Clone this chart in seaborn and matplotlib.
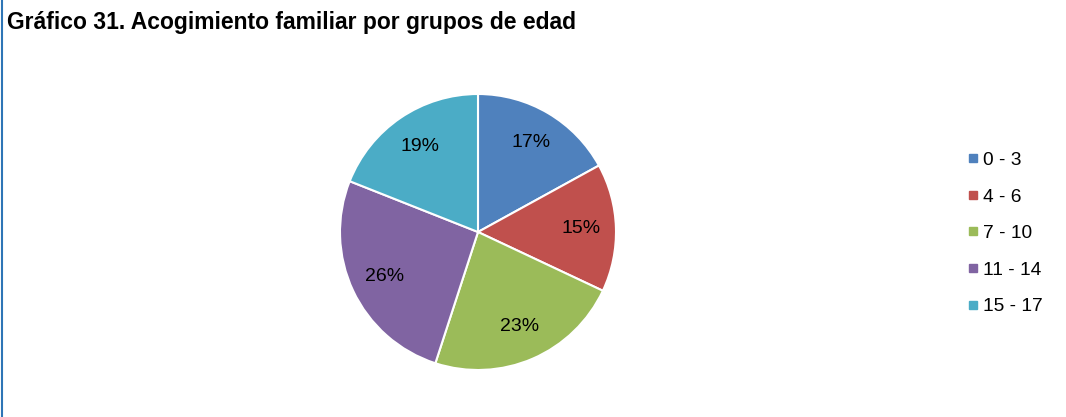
"""
Gráfico 31 - acogimiento familiar por grupos de edad (pie chart).
"""

import matplotlib
matplotlib.use("Agg")
import matplotlib.pyplot as plt
from matplotlib.lines import Line2D
import seaborn as sns

# ── DATA ─────────────────────────────────────
GROUPS = ["0 - 3", "4 - 6", "7 - 10", "11 - 14", "15 - 17"]
SHARES = [17, 15, 23, 26, 19]
COLORS = ["#4F81BD", "#C0504D", "#9BBB59", "#8064A2", "#4BACC6"]
TITLE = "Gráfico 31. Acogimiento familiar por grupos de edad"

# ── STYLE ────────────────────────────────────
sns.set_theme(style="white")
plt.rcParams["font.family"] = ["Liberation Sans", "DejaVu Sans"]
plt.rcParams["text.color"] = "black"

W, H = 1066, 417
fig = plt.figure(figsize=(W / 100, H / 100), dpi=100, facecolor="white")

# pie placed by pixel centre/radius
cx, cy, r = 478, 232, 138
ax = fig.add_axes([(cx - r) / W, (H - cy - r) / H, 2 * r / W, 2 * r / H])

palette = sns.color_palette(COLORS)
wedges, texts, autotexts = ax.pie(
    SHARES,
    colors=palette,
    startangle=90,
    counterclock=False,
    autopct=lambda p: f"{p:.0f}%",
    pctdistance=0.75,
    wedgeprops=dict(edgecolor="white", linewidth=1.5),
    textprops=dict(fontsize=14, color="black"),
)
ax.set_xlim(-1, 1)
ax.set_ylim(-1, 1)
ax.set_aspect("equal")
ax.axis("off")

# ── LEGEND ───────────────────────────────────
handles = [
    Line2D([0], [0], marker="s", linestyle="none", markersize=6,
           markerfacecolor=c, markeredgecolor=c)
    for c in palette
]
fig.legend(handles, GROUPS,
           loc="upper left",
           bbox_to_anchor=(959 / W, 1 - 142 / H),
           frameon=False,
           fontsize=13.8,
           handlelength=0.5,
           handletextpad=0.25,
           labelspacing=1.0,
           borderpad=0,
           labelcolor="black")

# ── TITLE + LEFT BORDER ──────────────────────
fig.text(7 / W, 1 - 23 / H, TITLE, fontsize=16.5, fontweight="bold",
         va="center", ha="left", color="black")
fig.add_artist(Line2D([2 / W, 2 / W], [0, 1], color="#2E75B6",
                      linewidth=1.5, transform=fig.transFigure))

plt.savefig("out.png", dpi=100, facecolor="white")
plt.close()
